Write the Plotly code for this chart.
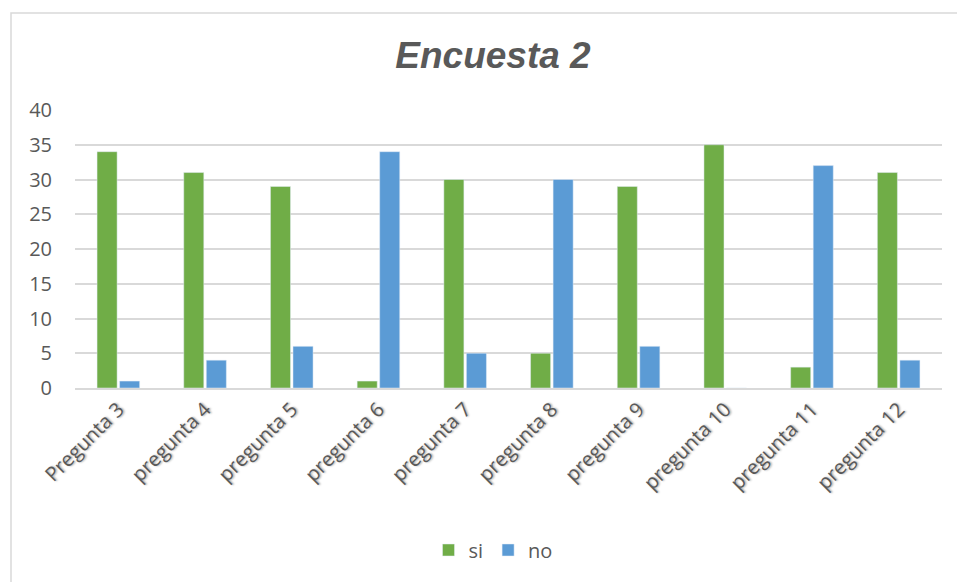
import plotly.graph_objects as go

categories = ["Pregunta 3", "pregunta 4", "pregunta 5", "pregunta 6", "pregunta 7",
              "pregunta 8", "pregunta 9", "pregunta 10", "pregunta 11", "pregunta 12"]
si_values = [34, 31, 29, 1, 30, 5, 29, 35, 3, 31]
no_values = [1, 4, 6, 34, 5, 30, 6, 0, 32, 4]
y_ticks = [0, 5, 10, 15, 20, 25, 30, 35, 40]

GREEN = "#70AD47"
BLUE = "#5B9BD5"
TEXT = "#595959"
GRID = "#D9D9D9"
FONT = "Open Sans, Noto Sans, sans-serif"

fig = go.Figure()
fig.add_trace(go.Bar(name="si", x=categories, y=si_values, marker_color=GREEN))
fig.add_trace(go.Bar(name="no", x=categories, y=no_values, marker_color=BLUE))

W, H = 957, 582
ml, mr, mt, mb = 75, 15, 110, 194
pw, ph = W - ml - mr, H - mt - mb

fig.update_layout(
    width=W, height=H,
    margin=dict(l=ml, r=mr, t=mt, b=mb, pad=0),
    paper_bgcolor="white", plot_bgcolor="white",
    barmode="group", bargap=0.48, bargroupgap=0.11,
    title=dict(text="<b><i>Encuesta 2</i></b>", x=493 / W, xref="container", xanchor="center",
               y=1 - 55 / H, yanchor="middle",
               font=dict(family="Liberation Sans, Arial, sans-serif", size=37, color=TEXT)),
    font=dict(family=FONT, color=TEXT),
    showlegend=True,
    legend=dict(orientation="h", x=(493 - ml) / pw, xanchor="center",
                y=(388 - 550) / ph, yanchor="middle",
                font=dict(size=20, color=TEXT, family=FONT),
                itemwidth=30, traceorder="normal", entrywidth=0),
    xaxis=dict(tickangle=-45,
               tickfont=dict(size=20, color=TEXT, family=FONT,
                             shadow="1px 1px 2px rgba(0,0,0,0.35)"),
               showline=True, linecolor=GRID, linewidth=1.5, ticks="", showgrid=False),
    yaxis=dict(range=[0, 40], tickvals=y_ticks, tickfont=dict(size=20, color=TEXT, family=FONT),
               showgrid=True, gridcolor=GRID, gridwidth=1.5, zeroline=False,
               showline=False, ticks="", ticklabelstandoff=22),
    shapes=[dict(type="rect", xref="paper", yref="paper",
                 x0=(11 - ml) / pw, x1=(W + 5 - ml) / pw,
                 y0=(388 - (H + 5)) / ph, y1=(388 - 13) / ph,
                 line=dict(color=GRID, width=1.5), fillcolor="rgba(0,0,0,0)", layer="below")],
)

fig.write_html("out.html")
